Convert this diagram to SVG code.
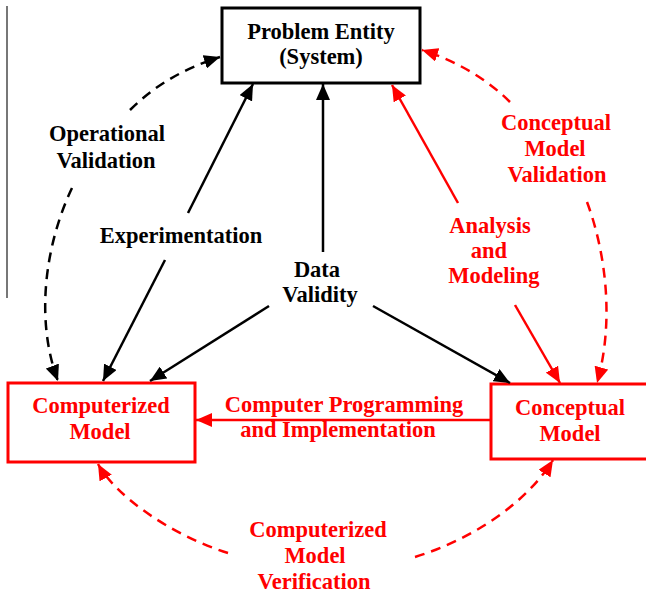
<svg xmlns="http://www.w3.org/2000/svg" width="646" height="595" viewBox="0 0 646 595">
<style>
text{font-family:"Liberation Serif","Times New Roman",serif;font-weight:bold;font-size:22.5px;text-anchor:middle}
.blk{fill:#000}
.red{fill:#ff0000}
.box{fill:#fff;stroke-width:3}
.bk{stroke:#000;stroke-width:2.5;fill:none}
.rd{stroke:#ff0000;stroke-width:2.5;fill:none}
.dash{stroke-dasharray:10 7}
</style>
<defs>
<marker id="ab" markerUnits="userSpaceOnUse" markerWidth="16" markerHeight="14" viewBox="0 0 16 14" refX="16" refY="7" orient="auto"><path d="M0,0 L16,7 L0,14 z" fill="#000"/></marker>
<marker id="ar" markerUnits="userSpaceOnUse" markerWidth="16" markerHeight="14" viewBox="0 0 16 14" refX="16" refY="7" orient="auto"><path d="M0,0 L16,7 L0,14 z" fill="#ff0000"/></marker>
</defs>
<line x1="7" y1="6" x2="7" y2="298" stroke="#777" stroke-width="2"/>
<g id="problem-entity">
<rect class="box" x="222" y="8" width="198" height="75" stroke="#000"/>
<text class="blk" x="321" y="39">Problem Entity</text>
<text class="blk" x="321" y="64">(System)</text>
</g>
<g id="computerized-model">
<rect class="box" x="8" y="383" width="187" height="79" stroke="#ff0000"/>
<text class="red" x="101" y="413">Computerized</text>
<text class="red" x="100" y="439">Model</text>
</g>
<g id="conceptual-model">
<rect class="box" x="491" y="384" width="170" height="75" stroke="#ff0000"/>
<text class="red" x="570" y="415">Conceptual</text>
<text class="red" x="570" y="441">Model</text>
</g>
<g id="connectors">
<path class="bk" d="M188 213 L253 84" marker-end="url(#ab)"/>
<path class="bk" d="M165 260 L103 381" marker-end="url(#ab)"/>
<path class="bk" d="M323 252 L323 84" marker-end="url(#ab)"/>
<path class="bk" d="M269 306 L150 381" marker-end="url(#ab)"/>
<path class="bk" d="M373 306 L510 383" marker-end="url(#ab)"/>
<path class="rd" d="M458 203 L392 85" marker-end="url(#ar)"/>
<path class="rd" d="M515 305 L560 383" marker-end="url(#ar)"/>
<path class="rd" d="M491 420 L196 420" marker-end="url(#ar)"/>
<path class="bk dash" d="M130 110 C155 85 185 68 220 57" marker-end="url(#ab)"/>
<path class="bk dash" d="M72 188 C45 245 35 320 58 381" marker-end="url(#ab)"/>
<path class="rd dash" d="M510 102 C490 82 460 62 422 50" marker-end="url(#ar)"/>
<path class="rd dash" d="M587 202 C605 250 615 320 597 383" marker-end="url(#ar)"/>
<path class="rd dash" d="M228 553 C170 535 115 495 98 464" marker-end="url(#ar)"/>
<path class="rd dash" d="M415 557 C470 540 525 505 553 460" marker-end="url(#ar)"/>
</g>
<g id="labels">
<text class="blk" x="107" y="141">Operational</text>
<text class="blk" x="106" y="168">Validation</text>
<text class="blk" x="181" y="243">Experimentation</text>
<text class="blk" x="317" y="277">Data</text>
<text class="blk" x="320" y="302">Validity</text>
<text class="red" x="556" y="130">Conceptual</text>
<text class="red" x="555" y="156">Model</text>
<text class="red" x="557" y="182">Validation</text>
<text class="red" x="490" y="233">Analysis</text>
<text class="red" x="489" y="258">and</text>
<text class="red" x="494" y="283">Modeling</text>
<text class="red" x="344" y="412">Computer Programming</text>
<text class="red" x="338" y="437">and Implementation</text>
<text class="red" x="318" y="537">Computerized</text>
<text class="red" x="315" y="563">Model</text>
<text class="red" x="314" y="589">Verification</text>
</g>
</svg>
